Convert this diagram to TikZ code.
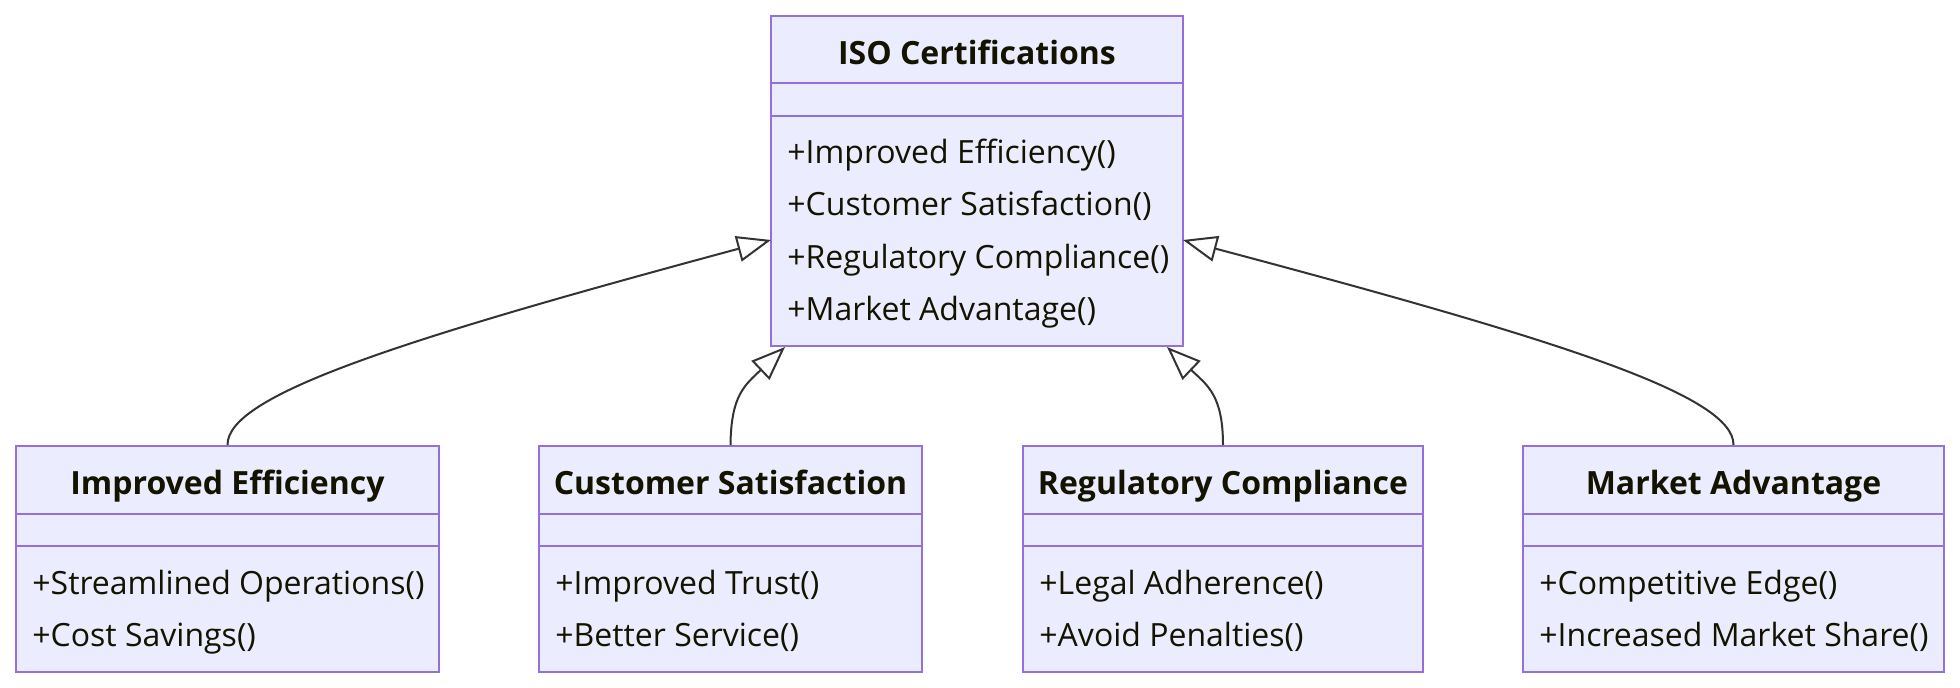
\documentclass[tikz,border=0pt]{standalone}
\usepackage{fontspec}
\setmainfont{Open Sans}
\usetikzlibrary{arrows.meta,positioning}

\definecolor{classfill}{HTML}{ECECFF}
\definecolor{classline}{HTML}{9370DB}
\definecolor{classtext}{HTML}{131300}
\definecolor{edgegray}{HTML}{333333}

\begin{document}
\begin{tikzpicture}[x=0.5pt,y=0.5pt,yscale=-1,
  classbox/.style={draw=classline, fill=classfill, line width=1pt, inner sep=0pt},
  classtitle/.style={anchor=base, inner sep=0pt, text=classtext, font=\bfseries\fontsize{16pt}{19pt}\selectfont},
  member/.style={anchor=base west, inner sep=0pt, text=classtext, font=\fontsize{16pt}{19pt}\selectfont},
  divider/.style={draw=classline, line width=1pt},
  inherit/.style={draw=edgegray, line width=1pt, -{Triangle[open, length=17pt, width=13pt]}}]

% Page
\fill [white] (0,0) rectangle (1960,688);

% Parent class
\node [classbox, minimum width=206pt, minimum height=165pt] (iso) at (977,181) {};
\draw [divider] (771,83) -- (1183,83);
\draw [divider] (771,116) -- (1183,116);
\node [classtitle] (iso-t) at (977,65) {ISO Certifications};
\node [member] (iso-m1) at (787,164) {+Improved Efficiency()};
\node [member] (iso-m2) at (787,216) {+Customer Satisfaction()};
\node [member] (iso-m3) at (787,269) {+Regulatory Compliance()};
\node [member] (iso-m4) at (787,321) {+Market Advantage()};

% Child classes
\node [classbox, minimum width=211.5pt, minimum height=113pt] (eff) at (227.5,559) {};
\node [classbox, minimum width=191.5pt, minimum height=113pt] (cust) at (730.5,559) {};
\node [classbox, minimum width=200pt, minimum height=113pt] (reg) at (1223,559) {};
\node [classbox, minimum width=210.5pt, minimum height=113pt] (mkt) at (1733.5,559) {};

\foreach \l/\r in {16/439,539/922,1023/1423,1523/1944} {
  \draw [divider] (\l,514) -- (\r,514);
  \draw [divider] (\l,546) -- (\r,546);
}

\node [classtitle] (eff-t) at (227.5,495) {Improved Efficiency};
\node [member] (eff-m1) at (32,595) {+Streamlined Operations()};
\node [member] (eff-m2) at (32,647) {+Cost Savings()};

\node [classtitle] (cust-t) at (730.5,495) {Customer Satisfaction};
\node [member] (cust-m1) at (555,595) {+Improved Trust()};
\node [member] (cust-m2) at (555,647) {+Better Service()};

\node [classtitle] (reg-t) at (1223,495) {Regulatory Compliance};
\node [member] (reg-m1) at (1039,595) {+Legal Adherence()};
\node [member] (reg-m2) at (1039,647) {+Avoid Penalties()};

\node [classtitle] (mkt-t) at (1733.5,495) {Market Advantage};
\node [member] (mkt-m1) at (1539,595) {+Competitive Edge()};
\node [member] (mkt-m2) at (1539,647) {+Increased Market Share()};

% Arrow ends on the parent box
\coordinate (iso-l) at (771,240);
\coordinate (iso-r) at (1183,240);
\coordinate (iso-bl) at (785,347);
\coordinate (iso-br) at (1167,347);

% Inheritance
\draw [inherit] (eff.north) .. controls (227,395) and (400,340) .. (iso-l);
\draw [inherit] (cust.north) .. controls (731,395) and (745,385) .. (iso-bl);
\draw [inherit] (reg.north) .. controls (1223,395) and (1207,385) .. (iso-br);
\draw [inherit] (mkt.north) .. controls (1734,395) and (1559,340) .. (iso-r);

\end{tikzpicture}
\end{document}
